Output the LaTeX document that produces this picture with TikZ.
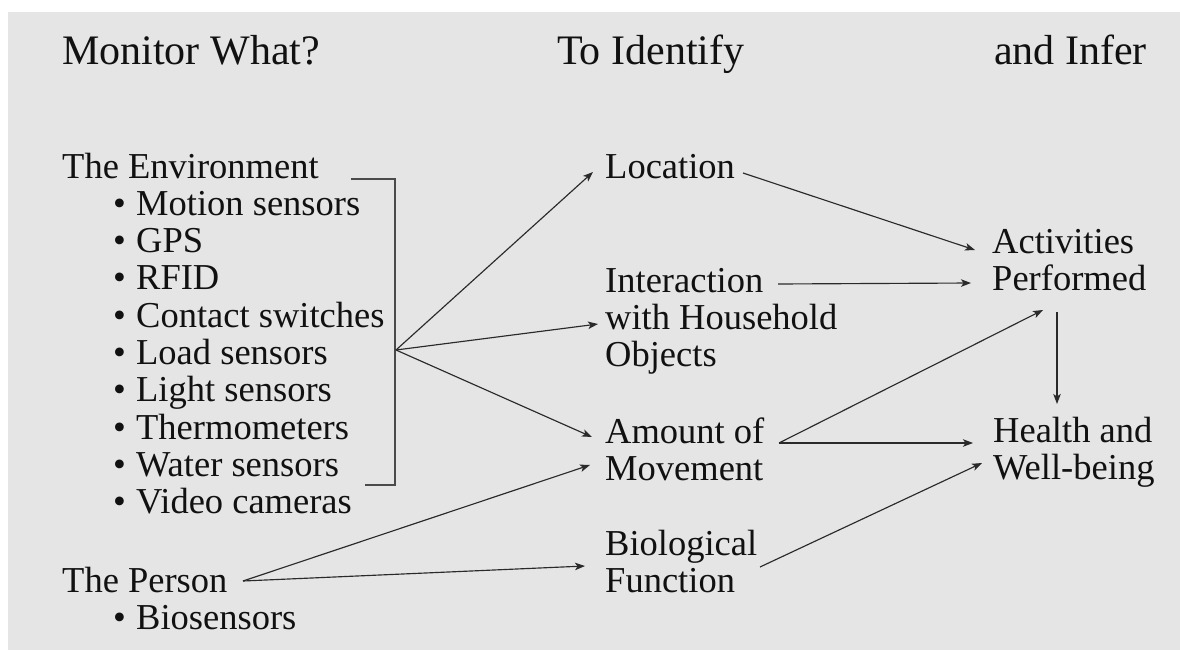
\documentclass[tikz,border=0pt]{standalone}
\usepackage{fontspec}
\setmainfont{Liberation Serif}
\usetikzlibrary{arrows.meta}
\definecolor{bgc}{HTML}{E5E5E5}
\definecolor{ink}{HTML}{111111}
\definecolor{linec}{HTML}{2A2A2A}
\newcommand{\bul}[1]{\hbox{\hspace*{51pt}\makebox[23pt][l]{•}#1}}
\tikzset{
  head/.style={anchor=base west, inner sep=0pt, text=ink, font=\fontsize{42}{46}\selectfont},
  lbl/.style={anchor=base west, inner sep=0pt, text=ink, font=\fontsize{36.5}{37.3}\selectfont},
  conn/.style={draw=linec, line width=1.15pt, -{Stealth[length=10pt,width=7.5pt,inset=2.5pt]}},
  brk/.style={draw=linec!85, line width=1.2pt}
}
\begin{document}
\begin{tikzpicture}[x=1pt,y=-1pt]
\useasboundingbox (0,0) rectangle (1180,650);
\fill[bgc] (8,12) rectangle (1180,650);
% headers
\node[head] (mon) at (62,65) {Monitor What?};
\node[head] (ident) at (557,65) {To Identify};
\node[head, anchor=base east] (infer) at (1147,65) {and Infer};
% left column
\node[lbl] (env) at (62,178) {\vtop{\hbox{The Environment}\bul{Motion sensors}\bul{GPS}\bul{RFID}\bul{Contact switches}\bul{Load sensors}\bul{Light sensors}\bul{Thermometers}\bul{Water sensors}\bul{Video cameras}}};
\node[lbl] (person) at (62,592) {\vtop{\hbox{The Person}\bul{Biosensors}}};
% middle column
\node[lbl] (loc) at (605,178) {Location};
\node[lbl] (inter) at (605,292) {\vtop{\hbox{Interaction}\hbox{with Household}\hbox{Objects}}};
\node[lbl] (amt) at (605,443) {\vtop{\hbox{Amount of}\hbox{Movement}}};
\node[lbl] (bio) at (605,555) {\vtop{\hbox{Biological}\hbox{Function}}};
% right column
\node[lbl] (act) at (992,253) {\vtop{\hbox{Activities}\hbox{Performed}}};
\node[lbl] (hlth) at (993,442) {\vtop{\hbox{Health and}\hbox{Well-being}}};
% bracket
\coordinate (bt) at (351,179);
\coordinate (btr) at (395,179);
\coordinate (bbr) at (395,485);
\coordinate (bb) at (365,485);
\coordinate (jn) at (396,350);
\draw[brk] (bt) -- (btr) -- (bbr) -- (bb);
% connector endpoints
\coordinate (locin) at (593,172);
\coordinate (interin) at (598,324);
\coordinate (amtin1) at (592,437);
\coordinate (amtin2) at (590,465);
\coordinate (bioin) at (585,566);
\coordinate (pout) at (243,581);
\coordinate (locout) at (743,173);
\coordinate (interout) at (778,284);
\coordinate (amtout) at (779,443);
\coordinate (bioout) at (760,567);
\coordinate (actin1) at (975,250);
\coordinate (actin2) at (971,283);
\coordinate (actin3) at (1043,310);
\coordinate (actout) at (1057,312);
\coordinate (hlthin1) at (1057,404);
\coordinate (hlthin2) at (973,443);
\coordinate (hlthin3) at (982,463);
% connectors
\draw[conn] (jn) -- (locin);
\draw[conn] (jn) -- (interin);
\draw[conn] (jn) -- (amtin1);
\draw[conn] (pout) -- (amtin2);
\draw[conn] (pout) -- (bioin);
\draw[conn] (locout) -- (actin1);
\draw[conn] (interout) -- (actin2);
\draw[conn] (amtout) -- (actin3);
\draw[conn] (amtout) -- (hlthin2);
\draw[conn] (bioout) -- (hlthin3);
\draw[conn] (actout) -- (hlthin1);
\end{tikzpicture}
\end{document}
